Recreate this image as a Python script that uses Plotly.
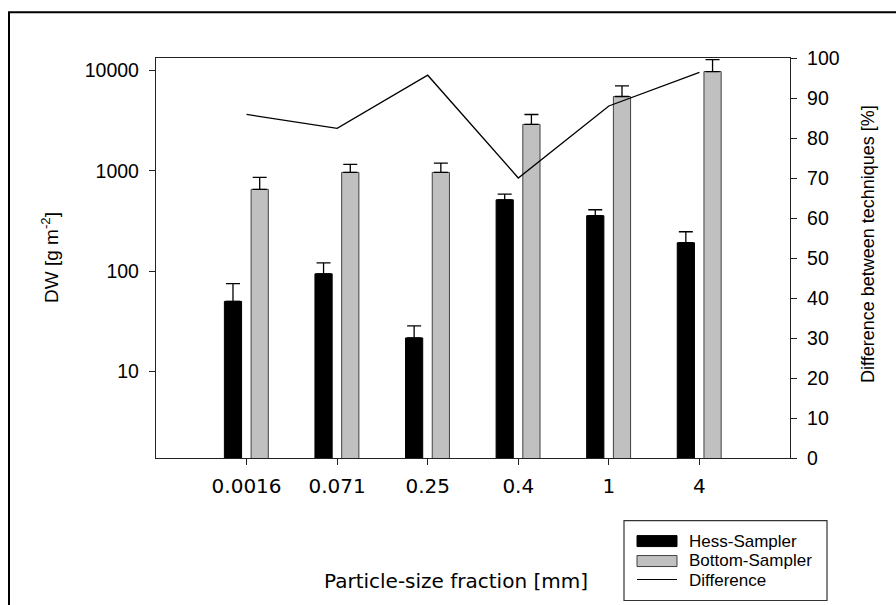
import plotly.graph_objects as go

# Particle-size fractions (mm) and dry weight per sampler (g m^-2)
fractions = ["0.0016", "0.071", "0.25", "0.4", "1", "4"]
hess_dw = [50, 94, 21.6, 514, 357, 192]
hess_err = [25, 27, 6.9, 72, 52, 55]
bottom_dw = [653, 964, 964, 2900, 5500, 9750]
bottom_err = [206, 195, 230, 740, 1510, 3070]
difference_pct = [85.9, 82.4, 95.7, 70.0, 88.0, 96.4]

series_names = ["Hess-Sampler", "Bottom-Sampler", "Difference"]

xpos = list(range(1, len(fractions) + 1))

FONT = "Liberation Sans, Arial, sans-serif"
XFONT = "DejaVu Sans, sans-serif"

# plot area in pixels (used to place the hand-built legend and frame)
L, R, T, B = 156, 790, 57.7, 458.3


def px(x):
    return (x - L) / (R - L)


def py(y):
    return (B - y) / (B - T)


fig = go.Figure()

fig.add_trace(go.Bar(
    x=xpos, y=hess_dw, name=series_names[0],
    width=0.19, offset=-0.245,
    marker=dict(color="black", line=dict(color="black", width=1)),
    error_y=dict(type="data", symmetric=False, array=hess_err,
                 arrayminus=[0] * len(hess_err),
                 color="black", thickness=1.3, width=7),
    showlegend=False,
))
fig.add_trace(go.Bar(
    x=xpos, y=bottom_dw, name=series_names[1],
    width=0.19, offset=0.05,
    marker=dict(color="#c0c0c0", line=dict(color="#404040", width=1)),
    error_y=dict(type="data", symmetric=False, array=bottom_err,
                 arrayminus=[0] * len(bottom_err),
                 color="black", thickness=1.3, width=7),
    showlegend=False,
))
fig.add_trace(go.Scatter(
    x=xpos, y=difference_pct, name=series_names[2], yaxis="y2",
    mode="lines", line=dict(color="black", width=1.3),
    showlegend=False,
))

axis_common = dict(
    showline=True, linecolor="#222222", linewidth=1.3,
    ticks="outside", ticklen=6, tickwidth=1.2, tickcolor="#222222",
    showgrid=False, zeroline=False,
)
tick_font = dict(family=FONT, size=19.5, color="black")

fig.update_layout(
    width=896, height=605,
    margin=dict(l=L, r=896 - R, t=T, b=605 - B),
    paper_bgcolor="white", plot_bgcolor="white",
    barmode="overlay",
    showlegend=False,
    xaxis=dict(
        range=[0, 7], tickvals=xpos, ticktext=fractions,
        mirror=True, ticklabelstandoff=4,
        tickfont=dict(family=XFONT, size=20, color="black"),
        **axis_common,
    ),
    yaxis=dict(
        type="log", range=[0.138, 4.124],
        tickvals=[10, 100, 1000, 10000],
        ticktext=["10", "100", "1000", "10000"],
        ticklabelstandoff=6, tickfont=tick_font,
        **axis_common,
    ),
    yaxis2=dict(
        overlaying="y", side="right", range=[0, 100],
        tickvals=list(range(0, 101, 10)),
        ticklabelstandoff=6, tickfont=tick_font,
        **axis_common,
    ),
)

# axis titles
fig.add_annotation(x=px(456), y=py(581), xref="paper", yref="paper",
                   text="Particle-size fraction [mm]", showarrow=False,
                   font=dict(family=XFONT, size=20, color="black"),
                   xanchor="center", yanchor="middle")
fig.add_annotation(x=px(50), y=py(258), xref="paper", yref="paper",
                   text="DW [g m<sup>-2</sup>]", showarrow=False,
                   font=dict(family=FONT, size=19, color="black"),
                   textangle=-90, xanchor="center", yanchor="middle")
fig.add_annotation(x=px(868), y=py(244), xref="paper", yref="paper",
                   text="Difference between techniques [%]", showarrow=False,
                   font=dict(family=FONT, size=18, color="black"),
                   textangle=-90, xanchor="center", yanchor="middle")

shapes = []
# outer frame around the figure
shapes.append(dict(type="rect", xref="paper", yref="paper",
                   x0=px(9), x1=px(910), y0=py(620), y1=py(12),
                   line=dict(color="black", width=2), fillcolor="rgba(0,0,0,0)"))
# legend box
shapes.append(dict(type="rect", xref="paper", yref="paper",
                   x0=px(624), x1=px(827), y0=py(601), y1=py(521),
                   line=dict(color="#333333", width=1.2), fillcolor="white"))
# legend swatches
shapes.append(dict(type="rect", xref="paper", yref="paper",
                   x0=px(637), x1=px(677), y0=py(547), y1=py(536),
                   line=dict(color="black", width=1), fillcolor="black"))
shapes.append(dict(type="rect", xref="paper", yref="paper",
                   x0=px(637), x1=px(677), y0=py(567), y1=py(556),
                   line=dict(color="#404040", width=1), fillcolor="#c0c0c0"))
shapes.append(dict(type="line", xref="paper", yref="paper",
                   x0=px(637), x1=px(677), y0=py(580), y1=py(580),
                   line=dict(color="black", width=1.2)))
fig.update_layout(shapes=shapes)

legend_font = dict(family=FONT, size=17, color="black")
for name, yc in zip(series_names, [541.5, 561, 580.5]):
    fig.add_annotation(x=px(687), y=py(yc), xref="paper", yref="paper",
                       text=name, showarrow=False, font=legend_font,
                       xanchor="left", yanchor="middle")

fig.write_html("out.html")
